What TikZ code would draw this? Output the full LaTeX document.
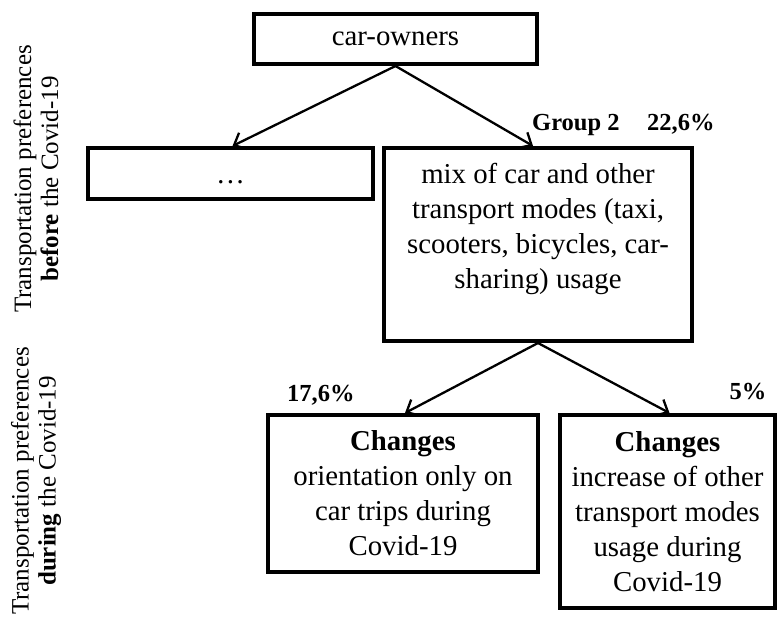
\documentclass[tikz,border=0pt]{standalone}
\usepackage{fontspec}
\setmainfont{Liberation Serif}
\usetikzlibrary{arrows.meta}

\begin{document}
\begin{tikzpicture}[x=1pt,y=-1pt,
    box/.style={draw,line width=4pt,inner sep=0pt,align=center,font=\fontsize{28.8}{35}\selectfont},
    txt/.style={inner sep=0pt,align=center,font=\fontsize{28.8}{35}\selectfont},
    lbl/.style={inner sep=0pt,font=\bfseries\fontsize{24.5}{29}\selectfont},
    side/.style={rotate=90,inner sep=0pt,align=center,font=\fontsize{25}{27}\selectfont},
    arr/.style={line width=2.3pt,-{Straight Barb[length=10pt,width=18pt]}}]
    \useasboundingbox (0,0) rectangle (777,619);

    % side labels
    \node[side] (before) at (36,179) {Transportation preferences\\\textbf{before} the Covid-19};
    \node[side] (during) at (36,481) {Transportation preferences\\\textbf{during} the Covid-19};

    % boxes
    \node[box,minimum width=283pt,minimum height=50pt] (owners) at (395.5,39) {car-owners};
    \node[box,minimum width=285pt,minimum height=51pt,text height=20pt,text depth=0pt] (dots) at (230.5,173.5) {\dots};
    \node[box,minimum width=308pt,minimum height=193pt] (mix) at (538,244.5) {};
    \node[txt] (mixtext) at (538,229) {mix of car and other\\transport modes (taxi,\\scooters, bicycles, car-\\sharing) usage};
    \node[box,minimum width=270pt,minimum height=157pt] (cartrips) at (403,493.5)
        {\textbf{Changes}\\orientation only on\\car trips during\\Covid-19};
    \node[box,minimum width=215pt,minimum height=193pt] (othermodes) at (667.5,511.5)
        {\textbf{Changes}\\increase of other\\transport modes\\usage during\\Covid-19};

    % shares
    \node[lbl,anchor=base west] (grp) at (532,130) {Group 2};
    \node[lbl,anchor=base west] (grppct) at (647,130) {22,6\%};
    \node[lbl,anchor=base west] (leftpct) at (287,401) {17,6\%};
    \node[lbl,anchor=base] (rightpct) at (748,399) {5\%};

    % arrows
    \draw[arr] (owners.south) -- ([xshift=2pt]dots.north);
    \draw[arr] (owners.south) -- ([xshift=-5pt]mix.north);
    \draw[arr] (mix.south) -- ([xshift=2pt]cartrips.north);
    \draw[arr] (mix.south) -- ([xshift=2pt]othermodes.north);

\end{tikzpicture}
\end{document}
